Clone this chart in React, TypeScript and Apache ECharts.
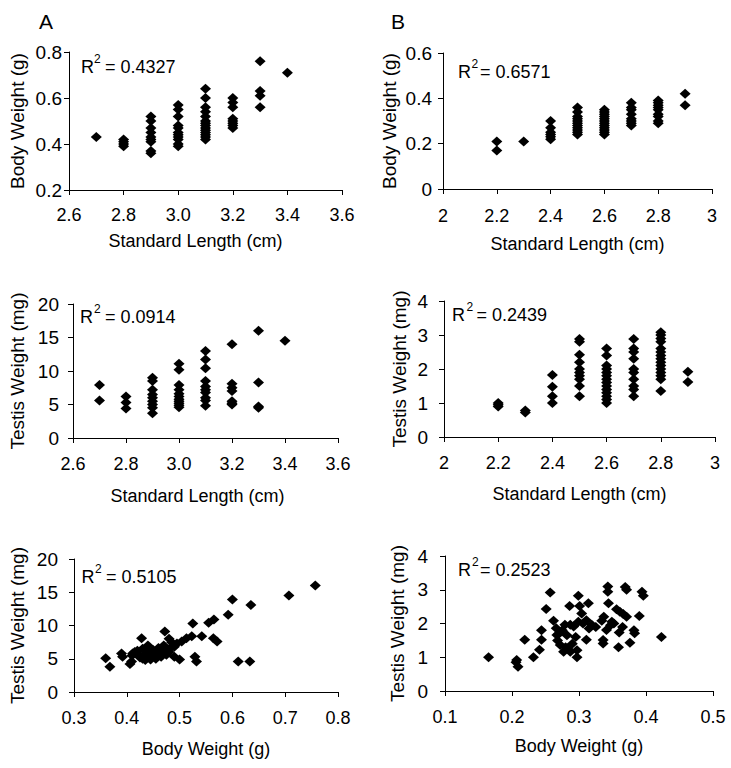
import React, { useEffect, useRef } from "react";
import * as echarts from "echarts";

// ---------- DATA ----------
// Panel A, top: Standard Length (cm) vs Body Weight (g)
const a1Columns: [number, number[]][] = [
  [2.7, [0.43]],
  [2.8, [0.42, 0.41, 0.4, 0.39]],
  [2.9, [0.52, 0.5, 0.47, 0.45, 0.43, 0.42, 0.41, 0.37, 0.36]],
  [3.0, [0.57, 0.55, 0.52, 0.48, 0.47, 0.45, 0.44, 0.43, 0.42, 0.4, 0.39]],
  [3.1, [0.64, 0.6, 0.56, 0.54, 0.52, 0.5, 0.49, 0.48, 0.47, 0.46, 0.45, 0.44, 0.43, 0.42]],
  [3.2, [0.6, 0.58, 0.56, 0.51, 0.5, 0.49, 0.48, 0.47]],
  [3.3, [0.76, 0.63, 0.61, 0.56]],
  [3.4, [0.71]],
];
// Panel B, top: Standard Length (cm) vs Body Weight (g)
const b1Columns: [number, number[]][] = [
  [2.2, [0.21, 0.17]],
  [2.3, [0.21]],
  [2.4, [0.3, 0.27, 0.25, 0.24, 0.23, 0.22]],
  [2.5, [0.36, 0.34, 0.32, 0.31, 0.3, 0.29, 0.28, 0.27, 0.26, 0.25, 0.24]],
  [2.6, [0.35, 0.34, 0.33, 0.32, 0.31, 0.3, 0.29, 0.28, 0.27, 0.26, 0.25, 0.24]],
  [2.7, [0.38, 0.36, 0.35, 0.33, 0.31, 0.3, 0.29, 0.28]],
  [2.8, [0.39, 0.38, 0.37, 0.36, 0.35, 0.33, 0.32, 0.3, 0.29]],
  [2.9, [0.42, 0.37]],
];
// Panel A, middle: Standard Length (cm) vs Testis Weight (mg)
const a2Columns: [number, number[]][] = [
  [2.7, [7.9, 5.6]],
  [2.8, [6.2, 5.3, 4.4]],
  [2.9, [9.0, 8.5, 7.2, 6.5, 6.0, 5.5, 5.0, 4.5, 3.7]],
  [3.0, [11.1, 10.2, 7.9, 7.2, 6.6, 6.2, 5.8, 5.5, 5.2, 4.9, 4.6]],
  [3.1, [13.0, 11.7, 10.4, 8.5, 7.7, 7.2, 6.8, 6.0, 5.6, 4.8]],
  [3.2, [14.0, 8.1, 7.5, 7.0, 5.5, 5.2, 5.0]],
  [3.3, [16.0, 8.3, 4.7, 4.5]],
  [3.4, [14.5]],
];
// Panel B, middle: Standard Length (cm) vs Testis Weight (mg)
const b2Columns: [number, number[]][] = [
  [2.2, [1.0, 0.95, 0.9]],
  [2.3, [0.78, 0.72]],
  [2.4, [1.82, 1.48, 1.2, 1.0]],
  [2.5, [2.88, 2.8, 2.42, 2.2, 2.0, 1.9, 1.8, 1.7, 1.5, 1.2]],
  [2.6, [2.6, 2.4, 2.1, 2.0, 1.9, 1.8, 1.7, 1.6, 1.5, 1.4, 1.3, 1.2, 1.1, 1.0]],
  [2.7, [2.88, 2.6, 2.5, 2.3, 2.0, 1.9, 1.7, 1.5, 1.4, 1.2]],
  [2.8, [3.08, 3.0, 2.9, 2.8, 2.6, 2.5, 2.4, 2.3, 2.2, 2.1, 2.0, 1.9, 1.8, 1.7, 1.35]],
  [2.9, [1.92, 1.62]],
];
// Panel A, bottom: Body Weight (g) vs Testis Weight (mg)
const a3BodyWeight = [
  0.757, 0.707, 0.635, 0.6, 0.592, 0.565, 0.555, 0.525, 0.472, 0.542, 0.564, 0.571, 0.523, 0.513, 0.504,
  0.495, 0.485, 0.428, 0.39, 0.392, 0.36, 0.368, 0.406, 0.409, 0.411, 0.529, 0.532, 0.5, 0.49, 0.611,
  0.633, 0.48, 0.485, 0.41, 0.415, 0.42, 0.42, 0.425, 0.43, 0.43, 0.435, 0.44, 0.44, 0.445, 0.445,
  0.45, 0.45, 0.455, 0.46, 0.46, 0.465, 0.465, 0.47, 0.47, 0.475, 0.475, 0.48, 0.49, 0.455, 0.435,
];
const a3TestisWeight = [
  16.0, 14.5, 13.1, 13.9, 11.6, 10.9, 10.4, 10.3, 9.1, 8.4, 8.1, 7.6, 8.4, 8.1, 7.6,
  7.3, 6.8, 8.1, 5.8, 5.3, 5.06, 3.8, 4.2, 4.6, 5.8, 5.3, 4.6, 4.9, 5.3, 4.6,
  4.6, 8.0, 7.5, 5.5, 6.0, 5.7, 6.2, 5.2, 6.5, 5.0, 5.8, 6.1, 7.0, 5.4, 4.9,
  6.3, 5.9, 5.5, 6.0, 6.6, 5.3, 5.8, 6.2, 7.0, 5.6, 6.4, 6.0, 6.8, 5.0, 4.8,
];
// Panel B, bottom: Body Weight (g) vs Testis Weight (mg)
const b3BodyWeight = [
  0.165, 0.207, 0.209, 0.206, 0.232, 0.241, 0.219, 0.244, 0.244, 0.257, 0.251, 0.262, 0.266, 0.267, 0.268,
  0.272, 0.277, 0.283, 0.279, 0.287, 0.292, 0.286, 0.299, 0.301, 0.304, 0.299, 0.306, 0.311, 0.314, 0.319,
  0.311, 0.297, 0.297, 0.287, 0.334, 0.337, 0.343, 0.343, 0.344, 0.341, 0.336, 0.336, 0.349, 0.352, 0.356,
  0.361, 0.366, 0.371, 0.36, 0.359, 0.369, 0.371, 0.376, 0.382, 0.383, 0.39, 0.394, 0.396, 0.423, 0.275,
  0.282, 0.29, 0.27, 0.315, 0.325, 0.295, 0.28, 0.347, 0.365,
];
const b3TestisWeight = [
  1.0, 0.92, 0.72, 0.85, 1.0, 1.22, 1.52, 1.52, 1.8, 2.92, 2.43, 2.08, 1.86, 1.66, 1.5,
  1.36, 1.16, 1.26, 1.96, 1.96, 1.91, 2.52, 2.82, 2.52, 2.3, 2.05, 2.0, 2.1, 2.6, 1.96,
  1.52, 1.21, 1.0, 1.16, 2.08, 2.2, 3.1, 2.94, 2.6, 1.81, 1.51, 1.41, 2.05, 2.0, 2.42,
  2.35, 2.28, 2.2, 1.73, 1.3, 3.08, 3.0, 1.43, 1.8, 1.71, 2.22, 2.94, 2.82, 1.6, 1.8,
  1.65, 1.4, 1.7, 1.85, 1.9, 1.6, 1.3, 1.95, 1.9,
];
const r2Labels = ["0.4327", "0.6571", "0.0914", "0.2439", "0.5105", "0.2523"];
const panelLetters = ["A", "B"];
const lengthTitle = "Standard Length (cm)";
const bodyTitle = "Body Weight (g)";
const testisTitle = "Testis Weight (mg)";

// ---------- helpers ----------
const fromColumns = (cols: [number, number[]][]) =>
  cols.flatMap(([x, ys]) => ys.map((y) => [x, y]));
const zip = (xs: number[], ys: number[]) => xs.map((x, i) => [x, ys[i]]);
const fix1 = (v: number) => v.toFixed(1);
const plain = (v: number) => String(Math.round(v * 100) / 100);

const FONT = '"Liberation Sans", Arial, Helvetica, sans-serif';

type AxisCfg = {
  min: number; max: number; interval: number; fmt: (v: number) => string;
  name: string; gap: number; margin: number; shift?: number;
};
type Panel = {
  grid: { left: number; top: number; width: number; height: number };
  x: AxisCfg; y: AxisCfg; data: number[][]; r2: string;
  rx: number; rTop: number; supX: number; supTop: number; eqX: number;
};

const panels: Panel[] = [
  {
    grid: { left: 69, top: 52, width: 273, height: 138 },
    x: { min: 2.6, max: 3.6, interval: 0.2, fmt: fix1, name: lengthTitle, gap: 42, margin: 16, shift: -10 },
    y: { min: 0.2, max: 0.8, interval: 0.2, fmt: fix1, name: bodyTitle, gap: 42, margin: 7 },
    data: fromColumns(a1Columns), r2: r2Labels[0],
    rx: 81, rTop: 60, supX: 94, supTop: 55, eqX: 105,
  },
  {
    grid: { left: 443, top: 53, width: 269, height: 136 },
    x: { min: 2, max: 3, interval: 0.2, fmt: plain, name: lengthTitle, gap: 46, margin: 18 },
    y: { min: 0, max: 0.6, interval: 0.2, fmt: plain, name: bodyTitle, gap: 44, margin: 11 },
    data: fromColumns(b1Columns), r2: r2Labels[1],
    rx: 458, rTop: 65, supX: 471.5, supTop: 59.5, eqX: 480,
  },
  {
    grid: { left: 73, top: 304, width: 265, height: 134 },
    x: { min: 2.6, max: 3.6, interval: 0.2, fmt: fix1, name: lengthTitle, gap: 49, margin: 17, shift: -8 },
    y: { min: 0, max: 20, interval: 5, fmt: plain, name: testisTitle, gap: 46, margin: 14 },
    data: fromColumns(a2Columns), r2: r2Labels[2],
    rx: 80, rTop: 310, supX: 94, supTop: 305, eqX: 105,
  },
  {
    grid: { left: 444, top: 301, width: 271, height: 136 },
    x: { min: 2, max: 3, interval: 0.2, fmt: plain, name: lengthTitle, gap: 48, margin: 17 },
    y: { min: 0, max: 4, interval: 1, fmt: plain, name: testisTitle, gap: 35, margin: 16 },
    data: fromColumns(b2Columns), r2: r2Labels[3],
    rx: 452, rTop: 308, supX: 466.5, supTop: 303, eqX: 476.5,
  },
  {
    grid: { left: 74, top: 559, width: 264, height: 133 },
    x: { min: 0.3, max: 0.8, interval: 0.1, fmt: fix1, name: bodyTitle, gap: 48, margin: 17 },
    y: { min: 0, max: 20, interval: 5, fmt: plain, name: testisTitle, gap: 47, margin: 16 },
    data: zip(a3BodyWeight, a3TestisWeight), r2: r2Labels[4],
    rx: 81.5, rTop: 570, supX: 95, supTop: 565, eqX: 106,
  },
  {
    grid: { left: 445, top: 556, width: 268, height: 135 },
    x: { min: 0.1, max: 0.5, interval: 0.1, fmt: fix1, name: bodyTitle, gap: 46, margin: 17 },
    y: { min: 0, max: 4, interval: 1, fmt: plain, name: testisTitle, gap: 38, margin: 17 },
    data: zip(b3BodyWeight, b3TestisWeight), r2: r2Labels[5],
    rx: 458, rTop: 563, supX: 472, supTop: 558, eqX: 480,
  },
];

const axisCommon = {
  axisLine: { show: true, onZero: false, lineStyle: { color: "#000", width: 1 } },
  axisTick: { show: true, inside: false, length: 5, lineStyle: { color: "#000", width: 1 } },
  splitLine: { show: false },
};

const txt = (x: number, y: number, text: string, size: number) => ({
  type: "text",
  x,
  y,
  silent: true,
  style: {
    text,
    fill: "#000",
    font: `${size}px ${FONT}`,
    textAlign: "left",
    textVerticalAlign: "top",
    align: "left",
    verticalAlign: "top",
  },
});

export default function App() {
  const ref = useRef<HTMLDivElement>(null);
  useEffect(() => {
    document.body.style.margin = "0";
    if (!ref.current) return;
    const chart = echarts.init(ref.current, undefined, { renderer: "svg" });
    const grids = panels.map((p) => ({ ...p.grid, containLabel: false }));
    const xAxes = panels.map((p, i) => ({
      type: "value",
      gridIndex: i,
      min: p.x.min,
      max: p.x.max,
      interval: p.x.interval,
      ...axisCommon,
      axisLabel: {
        color: "#000",
        fontSize: 18,
        fontFamily: FONT,
        margin: p.x.margin,
        formatter: p.x.fmt,
        showMinLabel: true,
        showMaxLabel: true,
      },
      name: p.x.name,
      nameLocation: "middle",
      nameGap: p.x.gap,
      nameTextStyle: {
        color: "#000",
        fontSize: 18,
        fontFamily: FONT,
        padding: p.x.shift ? [0, -2 * p.x.shift, 0, 0] : 0,
      },
    }));
    const yAxes = panels.map((p, i) => ({
      type: "value",
      gridIndex: i,
      min: p.y.min,
      max: p.y.max,
      interval: p.y.interval,
      ...axisCommon,
      axisLabel: {
        color: "#000",
        fontSize: 19,
        fontFamily: FONT,
        margin: p.y.margin,
        formatter: p.y.fmt,
        showMinLabel: true,
        showMaxLabel: true,
      },
      name: p.y.name,
      nameLocation: "middle",
      nameGap: p.y.gap,
      nameTextStyle: { color: "#000", fontSize: 19, fontFamily: FONT },
    }));
    const series = panels.map((p, i) => ({
      type: "scatter",
      xAxisIndex: i,
      yAxisIndex: i,
      data: p.data,
      symbol: "diamond",
      symbolSize: [11, 10],
      itemStyle: { color: "#000", opacity: 1 },
      silent: true,
    }));
    const graphics: any[] = [];
    panels.forEach((p) => {
      graphics.push(txt(p.rx, p.rTop - 2.4, "R", 18));
      graphics.push(txt(p.supX, p.supTop - 1.6, "2", 12));
      graphics.push(txt(p.eqX, p.rTop - 2.4, "= " + p.r2, 18));
    });
    graphics.push(txt(39, 10.5, panelLetters[0], 21));
    graphics.push(txt(391, 10.5, panelLetters[1], 21));

    chart.setOption({
      animation: false,
      backgroundColor: "#fff",
      textStyle: { fontFamily: FONT },
      grid: grids,
      xAxis: xAxes,
      yAxis: yAxes,
      series,
      graphic: graphics,
    });
    return () => chart.dispose();
  }, []);
  return <div ref={ref} style={{ width: 731, height: 768 }} />;
}
